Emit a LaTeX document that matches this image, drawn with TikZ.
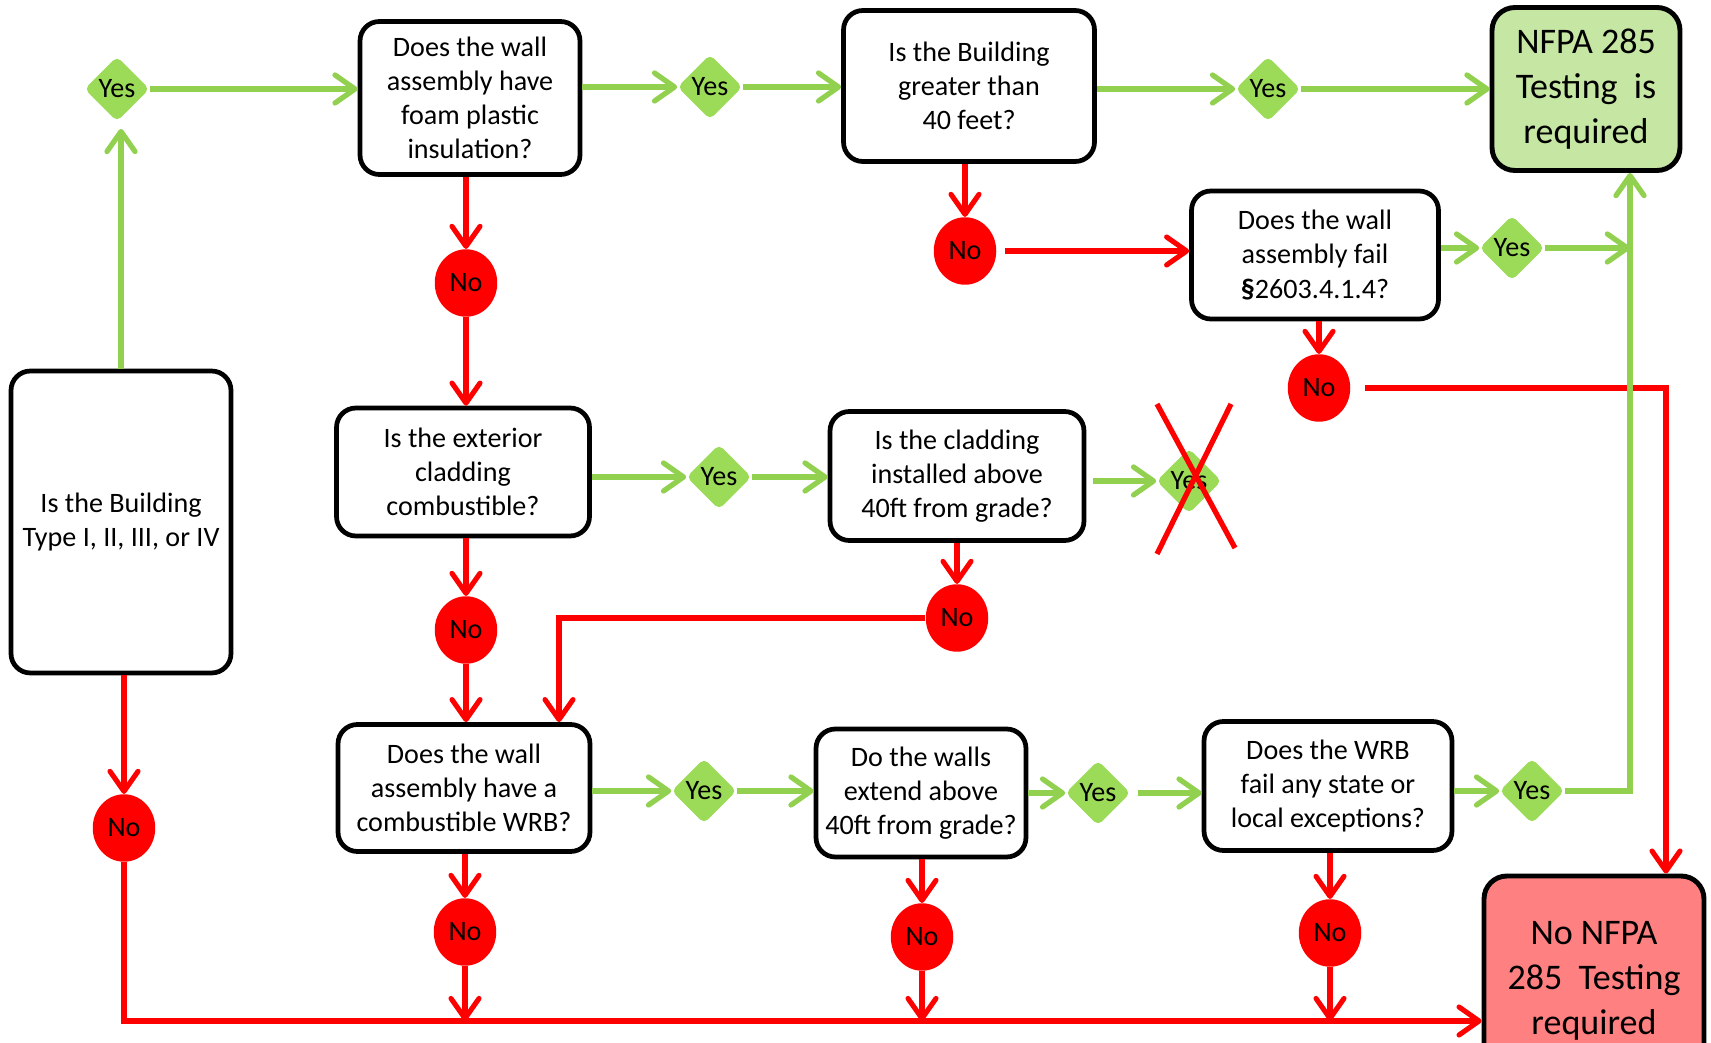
\documentclass[tikz,border=0pt]{standalone}
\usepackage{fontspec}
\setmainfont{Carlito}
\usetikzlibrary{
    positioning,
    calc,
    shapes.geometric,
    arrows.meta
}
\definecolor{LineGreen}{HTML}{92D050}
\definecolor{DiamondGreen}{HTML}{9BDB57}
\definecolor{PaleGreen}{HTML}{C6E6A4}
\definecolor{SignalRed}{HTML}{FF0000}
\definecolor{PaleRed}{HTML}{FF8080}

\tikzset{
    question/.style={
        draw=black,
        line width=2.7pt,
        rounded corners=11pt,
        fill=white,
        align=center,
        inner sep=2pt,
        font=\fontsize{16}{19.4}\selectfont
    },
    verdict/.style={
        draw=black,
        line width=2.8pt,
        rounded corners=13pt,
        align=center,
        inner sep=2pt,
        font=\fontsize{20.5}{25.6}\selectfont
    },
    yesmark/.style={
        diamond,
        fill=DiamondGreen,
        rounded corners=3pt,
        minimum width=1.3cm,
        minimum height=1.3cm,
        inner sep=0pt,
        font=\fontsize{16}{19}\selectfont
    },
    nomark/.style={
        ellipse,
        fill=SignalRed,
        minimum width=1.25cm,
        minimum height=1.35cm,
        inner sep=0pt,
        font=\fontsize{16}{19}\selectfont
    },
    yesline/.style={
        draw=LineGreen,
        line width=3pt,
        -{Straight Barb[round,length=0.4cm,width=0.56cm]}
    },
    noline/.style={
        draw=SignalRed,
        line width=2.9pt,
        -{Straight Barb[round,length=0.4cm,width=0.56cm]}
    }
}

\begin{document}
\begin{tikzpicture}[x=0.02cm, y=-0.02cm]

    \useasboundingbox (0,0) rectangle (1711,1043);

    % questions
    \node[question, minimum width=4.4cm, minimum height=6.04cm] (typebox) at (121,522)
        {Is the Building\\Type I, II, III, or IV};
    \node[question, minimum width=4.4cm, minimum height=3.06cm] (foam) at (470,98)
        {Does the wall\\assembly have\\foam plastic\\insulation?};
    \node[question, minimum width=5.02cm, minimum height=3.02cm] (height) at (969,86)
        {Is the Building\\greater than\\40 feet?};
    \node[question, minimum width=4.94cm, minimum height=2.56cm] (fail) at (1315,255)
        {Does the wall\\assembly fail\\\textbf{§}2603.4.1.4?};
    \node[question, minimum width=5.06cm, minimum height=2.56cm] (cladding) at (463,472)
        {Is the exterior\\cladding\\combustible?};
    \node[question, minimum width=5.08cm, minimum height=2.58cm] (above) at (957,476)
        {Is the cladding\\installed above\\40ft from grade?};
    \node[question, minimum width=5.04cm, minimum height=2.54cm] (wrb) at (464,788)
        {Does the wall\\assembly have a\\combustible WRB?};
    \node[question, minimum width=4.2cm, minimum height=2.56cm] (walls) at (921,793)
        {Do the walls\\extend above\\40ft from grade?};
    \node[question, minimum width=4.96cm, minimum height=2.58cm] (local) at (1328,786)
        {Does the WRB\\fail any state or\\local exceptions?};

    % outcomes
    \node[verdict, fill=PaleGreen, minimum width=3.76cm, minimum height=3.26cm] (required) at (1586,89)
        {NFPA 285\\Testing~~is\\required};
    \node[verdict, fill=PaleRed, minimum width=4.4cm, minimum height=4.2cm] (notrequired) at (1594,981)
        {No NFPA\\285~~Testing\\required};

    % yes / no marks
    \node[yesmark] (yesA) at (117,89) {Yes};
    \node[yesmark] (yesB) at (710,87) {Yes};
    \node[yesmark] (yesC) at (1268,89) {Yes};
    \node[yesmark] (yesD) at (1512,248) {Yes};
    \node[yesmark] (yesE) at (719,477) {Yes};
    \node[yesmark] (yesF) at (1189,481) {Yes};
    \node[yesmark] (yesG) at (704,791) {Yes};
    \node[yesmark] (yesH) at (1098,793) {Yes};
    \node[yesmark] (yesI) at (1532,791) {Yes};

    \node[nomark] (noA) at (466,283) {No};
    \node[nomark] (noB) at (965,251) {No};
    \node[nomark] (noC) at (1319,388) {No};
    \node[nomark] (noD) at (466,630) {No};
    \node[nomark] (noE) at (957,618) {No};
    \node[nomark] (noF) at (124,828) {No};
    \node[nomark] (noG) at (465,932) {No};
    \node[nomark] (noH) at (922,937) {No};
    \node[nomark] (noI) at (1330,933) {No};

    \coordinate (greenrail) at (1630,248);
    \coordinate (redrail) at (1666,386);
    \coordinate (baseline) at (0,1021);

    % red connectors
    \draw[noline] (foam.south -| noA.north) -- (noA.north);
    \draw[noline] (noA.south) -- (noA.south |- cladding.north);
    \draw[noline] (height.south -| noB.north) -- (noB.north);
    \draw[noline, shorten <=5pt] (noB.east) -- (noB.east -| fail.west);
    \draw[noline] (fail.south -| noC.north) -- (noC.north);
    \draw[noline, shorten <=8pt] (noC.east) -| (redrail |- notrequired.north);
    \draw[noline] (cladding.south -| noD.north) -- (noD.north);
    \draw[noline] (noD.south) -- (noD.south |- wrb.north);
    \draw[noline] (above.south -| noE.north) -- (noE.north);
    \draw[noline] (noE.west) -| ($(wrb.north)+(95,0)$);
    \draw[noline] (typebox.south -| noF.north) -- (noF.north);
    \draw[noline] (noF.south) |- (notrequired.west |- baseline);
    \draw[noline] (wrb.south -| noG.north) -- (noG.north);
    \draw[noline] (noG.south) -- (noG.south |- baseline);
    \draw[noline] (walls.south -| noH.north) -- (noH.north);
    \draw[noline] (noH.south) -- (noH.south |- baseline);
    \draw[noline] (local.south -| noI.north) -- (noI.north);
    \draw[noline] (noI.south) -- (noI.south |- baseline);

    % green connectors
    \draw[yesline, shorten >=4pt] (typebox.north) -- (typebox.north |- yesA.south);
    \draw[yesline] (yesA.east) -- (yesA.east -| foam.west);
    \draw[yesline] (yesB.west -| foam.east) -- (yesB.west);
    \draw[yesline] (yesB.east) -- (yesB.east -| height.west);
    \draw[yesline] (yesC.west -| height.east) -- (yesC.west);
    \draw[yesline] (yesC.east) -- (yesC.east -| required.west);
    \draw[yesline] (yesD.west -| fail.east) -- (yesD.west);
    \draw[yesline] (yesD.east) -- (greenrail);
    \draw[yesline] (yesE.west -| cladding.east) -- (yesE.west);
    \draw[yesline] (yesE.east) -- (yesE.east -| above.west);
    \draw[yesline, shorten <=4pt] (yesF.west -| above.east) -- (yesF.west);
    \draw[yesline] (yesG.west -| wrb.east) -- (yesG.west);
    \draw[yesline] (yesG.east) -- (yesG.east -| walls.west);
    \draw[yesline] (yesH.west -| walls.east) -- (yesH.west);
    \draw[yesline, shorten <=4pt] (yesH.east) -- (yesH.east -| local.west);
    \draw[yesline] (yesI.west -| local.east) -- (yesI.west);
    \draw[yesline] (yesI.east) -| (greenrail |- required.south);

    % crossed out answer
    \draw[SignalRed, line width=3pt] ($(yesF)+(-32,-77)$) -- ($(yesF)+(46,67)$);
    \draw[SignalRed, line width=3pt] ($(yesF)+(42,-77)$) -- ($(yesF)+(-32,73)$);

\end{tikzpicture}
\end{document}
